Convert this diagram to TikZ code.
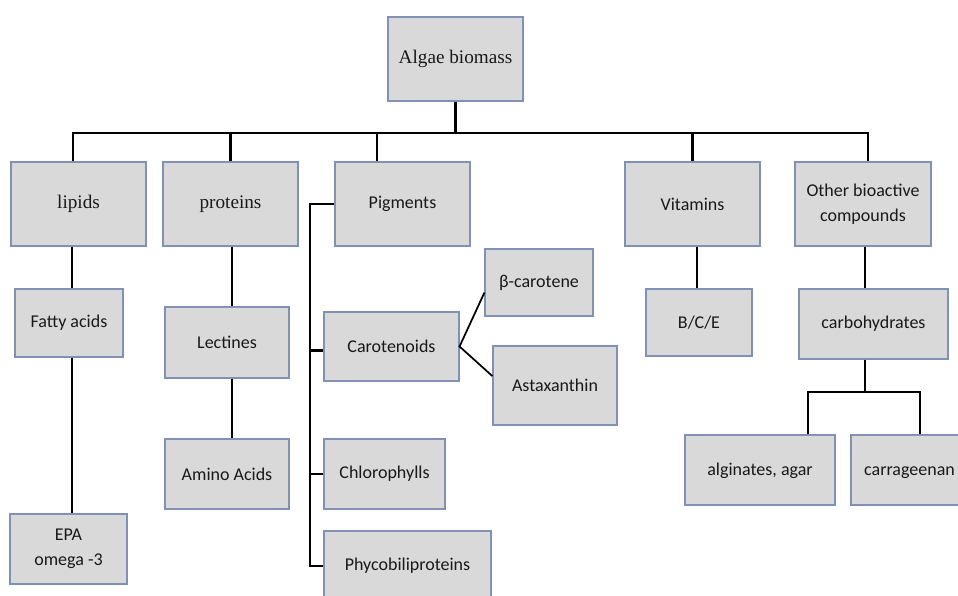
\documentclass[tikz,border=0pt]{standalone}
\usepackage{fontspec}
\setmainfont{Carlito}
\newfontfamily\serifA{Liberation Serif}
\definecolor{boxfill}{RGB}{217,217,217}
\definecolor{boxline}{RGB}{128,144,182}
\begin{document}
\begin{tikzpicture}[x=0.75pt,y=-0.75pt,
  box/.style={draw=boxline, fill=boxfill, line width=0.8pt, inner sep=0pt,
    align=center, text=black!90, font=\fontsize{13.5}{18.75}\selectfont},
  sbox/.style={box, font=\serifA\fontsize{14.4}{18.75}\selectfont},
  conn/.style={draw=black, line width=1.7pt}]
\useasboundingbox[fill=white] (0,0) rectangle (958,596);

% nodes
\node[sbox, minimum width=101.25pt, minimum height=63pt] (algae) at (455.5,59) {Algae biomass};
\node[sbox, minimum width=101.25pt, minimum height=63pt] (lipids) at (78.5,204) {lipids};
\node[sbox, minimum width=101.25pt, minimum height=63pt] (proteins) at (230.5,204) {proteins};
\node[box, minimum width=101.25pt, minimum height=63pt] (pigments) at (402.5,204) {Pigments};
\node[box, minimum width=101.25pt, minimum height=63pt] (vitamins) at (692.5,204) {Vitamins};
\node[box, minimum width=102pt, minimum height=63pt] (other) at (863,204) {Other bioactive\\compounds};

\node[box, minimum width=81pt, minimum height=51pt] (fatty) at (69,323) {Fatty acids};
\node[box, minimum width=87.75pt, minimum height=52.5pt] (epa) at (68.5,549) {EPA\\omega -3};
\node[box, minimum width=93pt, minimum height=53.25pt] (lectines) at (227,342.5) {Lectines};
\node[box, minimum width=93pt, minimum height=52.5pt] (amino) at (227,474) {Amino Acids};

\node[box, minimum width=101.25pt, minimum height=51.75pt] (carot) at (391.5,346.5) {Carotenoids};
\node[box, minimum width=90.75pt, minimum height=52.5pt] (chloro) at (384.5,474) {Chlorophylls};
\node[box, minimum width=125.25pt, minimum height=52.5pt] (phyco) at (407.5,566) {Phycobiliproteins};
\node[box, minimum width=81pt, minimum height=50.25pt] (beta) at (539,282.5) {β-carotene};
\node[box, minimum width=93pt, minimum height=59.25pt] (asta) at (555,385.5) {Astaxanthin};

\node[box, minimum width=79.5pt, minimum height=50.25pt] (bce) at (699,322.5) {B/C/E};
\node[box, minimum width=111.75pt, minimum height=52.5pt] (carbo) at (873.5,324) {carbohydrates};
\node[box, minimum width=112.5pt, minimum height=52.5pt] (alg) at (760,470) {\strut alginates, agar};
\node[box, minimum width=87.75pt, minimum height=52.5pt] (carr) at (909.5,470) {\strut carrageenan};

% bus from root
\coordinate (busL) at (73,133);
\coordinate (busR) at (868,133);
\coordinate (pigx) at (377,133);
\draw[conn] (lipids.north -| busL) -- (busL) -- (busR) -- (other.north -| busR);
\draw[conn] (algae.south) -- (algae.south |- busL);
\draw[conn] (proteins.north) -- (proteins.north |- busL);
\draw[conn] (pigments.north -| pigx) -- (pigx);
\draw[conn] (vitamins.north) -- (vitamins.north |- busL);

% lipids chain
\coordinate (lx) at (72,0);
\draw[conn] (lipids.south -| lx) -- (fatty.north -| lx);
\draw[conn] (fatty.south -| lx) -- (epa.north -| lx);

% proteins chain
\coordinate (px) at (232,0);
\draw[conn] (proteins.south -| px) -- (lectines.north -| px);
\draw[conn] (lectines.south -| px) -- (amino.north -| px);

% pigments bracket
\coordinate (pbx) at (310,0);
\draw[conn] (pigments.west) -| (phyco.west -| pbx) -- (phyco.west);
\draw[conn] ([yshift=-3pt]carot.west -| pbx) -- ([yshift=-3pt]carot.west);
\draw[conn] (chloro.west -| pbx) -- (chloro.west);

% carotenoids
\draw[line width=1.3pt] ([yshift=-7.5pt]beta.west) -- (carot.east) -- ([yshift=7pt]asta.west);

% vitamins
\coordinate (vx) at (697,0);
\draw[conn] (vitamins.south -| vx) -- (bce.north -| vx);

% other
\coordinate (cj) at (865,392);
\draw[conn] (other.south -| cj) -- (carbo.north -| cj);
\draw[conn] (carbo.south -| cj) -- (cj);
\draw[conn] (alg.north -| 808,0) |- (cj) -| (carr.north -| 920,0);
\end{tikzpicture}
\end{document}
